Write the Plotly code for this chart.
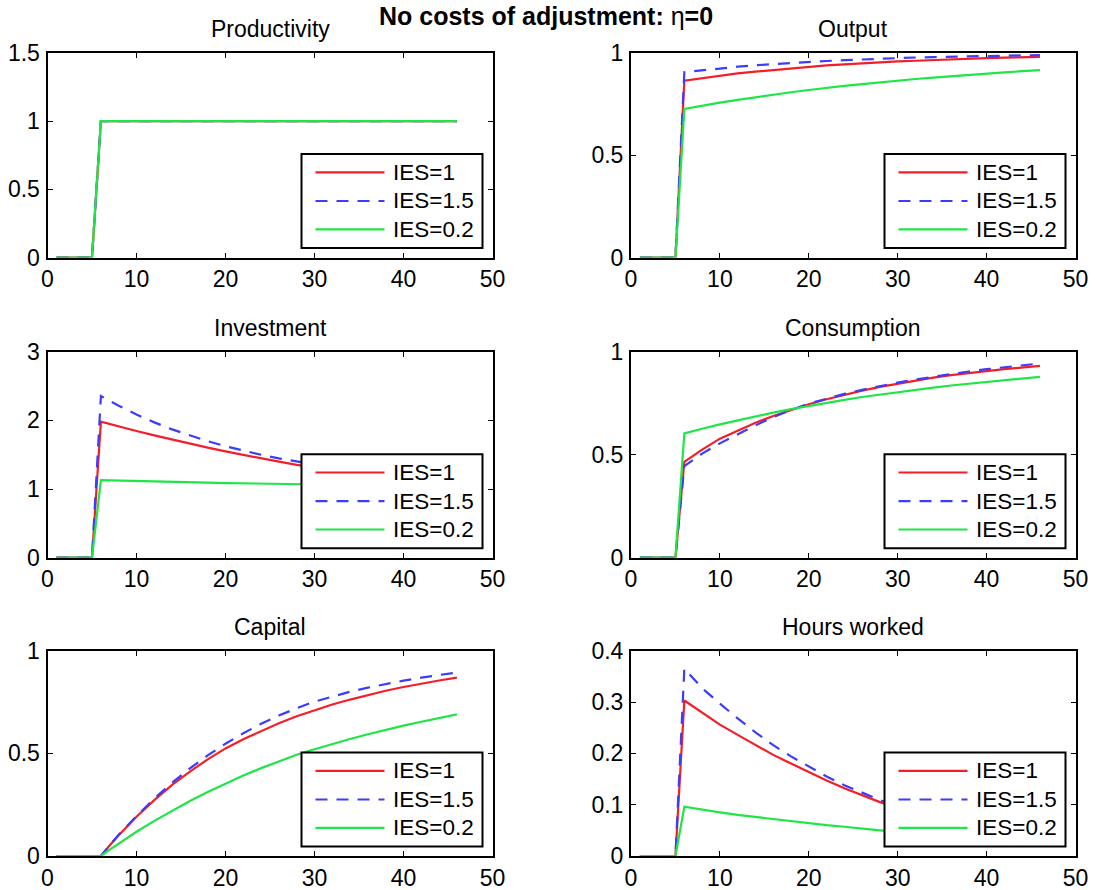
import plotly.graph_objects as go

# Model periods (the shock hits in period 6)
periods = [1, 5, 6, 7, 8, 10, 12, 14, 16, 18, 20, 22, 24, 26, 28, 30, 32, 34, 36, 38, 40, 42, 44, 46]

series_names = ["IES=1", "IES=1.5", "IES=0.2"]

productivity_ies1 = [0, 0, 1, 1, 1, 1, 1, 1, 1, 1, 1, 1, 1, 1, 1, 1, 1, 1, 1, 1, 1, 1, 1, 1]
productivity_ies15 = [0, 0, 1, 1, 1, 1, 1, 1, 1, 1, 1, 1, 1, 1, 1, 1, 1, 1, 1, 1, 1, 1, 1, 1]
productivity_ies02 = [0, 0, 1, 1, 1, 1, 1, 1, 1, 1, 1, 1, 1, 1, 1, 1, 1, 1, 1, 1, 1, 1, 1, 1]

output_ies1 = [0, 0, 0.865, 0.871, 0.878, 0.889, 0.900, 0.909, 0.917, 0.925, 0.932, 0.939,
               0.944, 0.950, 0.954, 0.959, 0.962, 0.966, 0.969, 0.972, 0.975, 0.977, 0.979, 0.981]
output_ies15 = [0, 0, 0.906, 0.911, 0.916, 0.925, 0.933, 0.940, 0.946, 0.952, 0.957, 0.961,
                0.965, 0.969, 0.972, 0.975, 0.978, 0.980, 0.982, 0.984, 0.986, 0.987, 0.989, 0.990]
output_ies02 = [0, 0, 0.727, 0.735, 0.743, 0.757, 0.771, 0.784, 0.797, 0.808, 0.819, 0.830,
                0.839, 0.848, 0.857, 0.865, 0.873, 0.880, 0.887, 0.894, 0.900, 0.905, 0.911, 0.916]

investment_ies1 = [0, 0, 1.980, 1.945, 1.911, 1.845, 1.782, 1.720, 1.661, 1.604, 1.548, 1.495,
                   1.445, 1.398, 1.353, 1.312, 1.275, 1.242, 1.212, 1.186, 1.163, 1.143, 1.125, 1.110]
investment_ies15 = [0, 0, 2.355, 2.282, 2.213, 2.085, 1.971, 1.869, 1.778, 1.696, 1.623, 1.557,
                    1.499, 1.447, 1.400, 1.358, 1.320, 1.286, 1.256, 1.229, 1.205, 1.184, 1.164, 1.147]
investment_ies02 = [0, 0, 1.131, 1.127, 1.124, 1.116, 1.110, 1.104, 1.098, 1.092, 1.087, 1.082,
                    1.077, 1.073, 1.069, 1.065, 1.061, 1.057, 1.054, 1.051, 1.048, 1.045, 1.043, 1.040]

consumption_ies1 = [0, 0, 0.465, 0.497, 0.525, 0.578, 0.618, 0.655, 0.688, 0.718, 0.745, 0.769,
                    0.791, 0.811, 0.829, 0.845, 0.860, 0.874, 0.886, 0.897, 0.906, 0.915, 0.923, 0.931]
consumption_ies15 = [0, 0, 0.445, 0.476, 0.505, 0.555, 0.600, 0.643, 0.682, 0.717, 0.748, 0.772,
                     0.795, 0.815, 0.833, 0.850, 0.865, 0.879, 0.892, 0.904, 0.915, 0.925, 0.934, 0.943]
consumption_ies02 = [0, 0, 0.603, 0.615, 0.626, 0.647, 0.667, 0.686, 0.704, 0.721, 0.737, 0.752,
                     0.766, 0.780, 0.792, 0.804, 0.815, 0.826, 0.836, 0.845, 0.854, 0.862, 0.870, 0.878]

capital_ies1 = [0, 0, 0, 0.052, 0.101, 0.191, 0.272, 0.346, 0.411, 0.471, 0.524, 0.569,
                0.610, 0.647, 0.681, 0.711, 0.738, 0.762, 0.785, 0.805, 0.823, 0.840, 0.855, 0.869]
capital_ies15 = [0, 0, 0, 0.053, 0.103, 0.194, 0.280, 0.357, 0.427, 0.490, 0.547, 0.598,
                 0.644, 0.684, 0.720, 0.752, 0.777, 0.800, 0.820, 0.838, 0.854, 0.869, 0.882, 0.894]
capital_ies02 = [0, 0, 0, 0.031, 0.061, 0.118, 0.171, 0.221, 0.268, 0.312, 0.353, 0.392,
                 0.428, 0.462, 0.493, 0.520, 0.546, 0.570, 0.593, 0.615, 0.635, 0.654, 0.673, 0.690]

hours_ies1 = [0, 0, 0.303, 0.291, 0.279, 0.256, 0.236, 0.216, 0.197, 0.180, 0.163, 0.147,
              0.132, 0.118, 0.105, 0.094, 0.085, 0.077, 0.070, 0.063, 0.057, 0.052, 0.047, 0.043]
hours_ies15 = [0, 0, 0.365, 0.345, 0.327, 0.297, 0.268, 0.241, 0.216, 0.194, 0.174, 0.155,
               0.138, 0.123, 0.109, 0.096, 0.086, 0.077, 0.069, 0.062, 0.055, 0.049, 0.044, 0.040]
hours_ies02 = [0, 0, 0.096, 0.093, 0.091, 0.085, 0.080, 0.076, 0.072, 0.067, 0.064, 0.060,
               0.057, 0.053, 0.050, 0.047, 0.045, 0.042, 0.040, 0.037, 0.035, 0.033, 0.031, 0.030]

panel_titles = ["Productivity", "Output", "Investment", "Consumption", "Capital", "Hours worked"]
panel_data = [
    (productivity_ies1, productivity_ies15, productivity_ies02),
    (output_ies1, output_ies15, output_ies02),
    (investment_ies1, investment_ies15, investment_ies02),
    (consumption_ies1, consumption_ies15, consumption_ies02),
    (capital_ies1, capital_ies15, capital_ies02),
    (hours_ies1, hours_ies15, hours_ies02),
]
y_ranges = [(0, 1.5), (0, 1), (0, 3), (0, 1), (0, 1), (0, 0.4)]
y_steps = [0.5, 0.5, 1, 0.5, 0.5, 0.1]
x_ticks = [0, 10, 20, 30, 40, 50]

# ---- styling ----
W, H = 1095, 890
FONT = "Liberation Sans, Arial, Helvetica, sans-serif"
line_styles = [
    dict(color="#f41e28", width=2.2, dash="solid"),
    dict(color="#3c3cfa", width=2.2, dash="12px,9px"),
    dict(color="#1ee646", width=2.2, dash="solid"),
]

# axes boxes in pixels: (left, right) per column, (top, bottom) per row
cols_px = [(47.5, 492.5), (631.0, 1075.5)]
rows_px = [(53.0, 257.5), (351.7, 557.7), (650.7, 856.0)]

fig = go.Figure()
shapes = []
annotations = []
layout_axes = {}

for i in range(6):
    r, c = divmod(i, 2)
    s = "" if i == 0 else str(i + 1)
    xl, xr = cols_px[c]
    yt, yb = rows_px[r]
    ax_w, ax_h = xr - xl, yb - yt

    for vals, name, st in zip(panel_data[i], series_names, line_styles):
        fig.add_trace(go.Scatter(
            x=periods, y=vals, mode="lines", name=name, line=st,
            xaxis="x" + s, yaxis="y" + s, showlegend=False, hoverinfo="skip",
        ))

    y0, y1 = y_ranges[i]
    step = y_steps[i]
    n = int(round((y1 - y0) / step))
    yt_vals = [round(y0 + k * step, 3) for k in range(n + 1)]

    common = dict(
        showgrid=False, zeroline=False, showline=True, linecolor="black", linewidth=2,
        mirror="ticks", ticks="inside", ticklen=5, tickwidth=1, tickcolor="black",
        tickfont=dict(family=FONT, size=23, color="black"), automargin=False,
        fixedrange=True, layer="below traces",
    )
    layout_axes["xaxis" + s] = dict(
        domain=[xl / W, xr / W], range=[0, 50], tickvals=x_ticks,
        anchor="y" + s, ticklabelstandoff=0, **common)
    layout_axes["yaxis" + s] = dict(
        domain=[1 - yb / H, 1 - yt / H], range=[y0, y1], tickvals=yt_vals,
        anchor="x" + s, ticklabelstandoff=1, **common)

    # panel title
    annotations.append(dict(
        text=panel_titles[i], xref=f"x{s} domain", yref=f"y{s} domain",
        x=0.5, y=1, xanchor="center", yanchor="bottom", yshift=9, showarrow=False,
        font=dict(family=FONT, size=23, color="black"),
    ))

    # legend box in the lower-right corner of each panel
    lx1 = 1 - 10 / ax_w
    lx0 = lx1 - 181 / ax_w
    ly0 = 9.5 / ax_h
    ly1 = ly0 + 94 / ax_h
    shapes.append(dict(
        type="rect", xref=f"x{s} domain", yref=f"y{s} domain",
        x0=lx0, x1=lx1, y0=ly0, y1=ly1, fillcolor="white",
        line=dict(color="black", width=2), layer="above",
    ))
    for k, (name, st) in enumerate(zip(series_names, line_styles)):
        yy = ly1 - [18.3, 47.0, 75.3][k] / ax_h
        shapes.append(dict(
            type="line", xref=f"x{s} domain", yref=f"y{s} domain",
            x0=lx0 + 14 / ax_w, x1=lx0 + 83 / ax_w, y0=yy, y1=yy,
            line=dict(color=st["color"], width=st["width"], dash=st["dash"]), layer="above",
        ))
        annotations.append(dict(
            text=name, xref=f"x{s} domain", yref=f"y{s} domain",
            x=lx0 + 89 / ax_w, y=yy, xanchor="left", yanchor="middle", showarrow=False,
            font=dict(family=FONT, size=22.5, color="black"),
        ))

# overall title
annotations.append(dict(
    text="<b>No costs of adjustment: </b>η<b>=0</b>", xref="paper", yref="paper",
    x=546 / W, y=1, xanchor="center", yanchor="top", showarrow=False,
    font=dict(family=FONT, size=25, color="black"),
))

fig.update_layout(
    width=W, height=H, margin=dict(l=0, r=0, t=0, b=0),
    paper_bgcolor="white", plot_bgcolor="white", showlegend=False,
    shapes=shapes, annotations=annotations, **layout_axes,
)

fig.write_html("out.html", config={"displayModeBar": False})
